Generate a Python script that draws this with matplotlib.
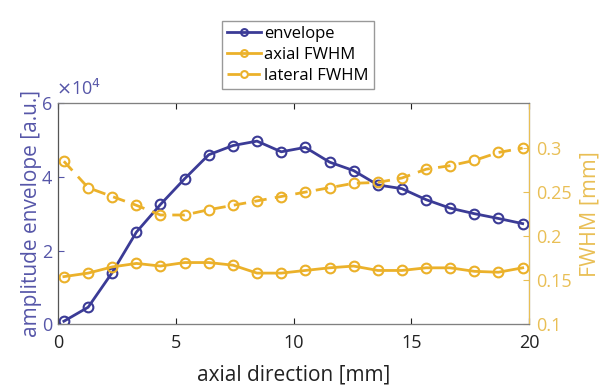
import matplotlib
matplotlib.use("Agg")
import matplotlib.pyplot as plt
import numpy as np

plt.rcParams['font.family'] = ['Open Sans', 'DejaVu Sans']

# axial positions [mm]
depth = [0.25, 1.28, 2.3, 3.33, 4.35, 5.38, 6.4, 7.43, 8.45, 9.48,
         10.5, 11.53, 12.55, 13.58, 14.6, 15.63, 16.65, 17.68, 18.7, 19.73]

# amplitude envelope [a.u.]
envelope = [800, 4600, 14000, 25000, 32500, 39500, 46000, 48500, 49700, 46800,
            48000, 44000, 41700, 37800, 36800, 33800, 31500, 30000, 28700, 27300]

# FWHM [mm]
axial_fwhm = [0.154, 0.158, 0.165, 0.169, 0.166, 0.170, 0.170, 0.167, 0.158, 0.158,
              0.161, 0.164, 0.166, 0.161, 0.161, 0.164, 0.164, 0.160, 0.159, 0.164]
lateral_fwhm = [0.285, 0.255, 0.245, 0.235, 0.224, 0.224, 0.230, 0.235, 0.240, 0.245,
                0.250, 0.255, 0.260, 0.261, 0.266, 0.276, 0.280, 0.286, 0.295, 0.300]

c_env = '#3b3b96'
c_env_txt = '#5656a8'
c_fw = '#ebb12a'
c_fw_txt = '#e9bf55'
grey = '#808080'

fig = plt.figure(figsize=(6.08, 3.85), dpi=100)
ax = fig.add_axes([0.0954, 0.158, 0.7747, 0.574])
ax2 = ax.twinx()

l1, = ax.plot(depth, envelope, '-o', color=c_env, lw=2, ms=7, mfc='none', mew=1.5,
              label='envelope')
l2, = ax2.plot(depth, axial_fwhm, '-o', color=c_fw, lw=2, ms=7, mfc='none', mew=1.5,
               label='axial FWHM')
l3, = ax2.plot(depth, lateral_fwhm, '--o', color=c_fw, lw=2, ms=7, mfc='none', mew=1.5,
               label='lateral FWHM', dashes=(4.5, 3))

ax.set_xlim(0, 20)
ax.set_ylim(0, 60000)
ax.set_xticks(np.arange(0, 21, 5))
ax.set_yticks([0, 20000, 40000, 60000])
ax.set_yticklabels(['0', '2', '4', '6'])
ax2.set_ylim(0.1, 0.351)
ax2.set_yticks([0.1, 0.15, 0.2, 0.25, 0.3])
ax2.set_yticklabels(['0.1', '0.15', '0.2', '0.25', '0.3'])

ax.tick_params(axis='x', direction='in', labelsize=13, colors='#222222', length=4,
               top=True, pad=7)
ax.tick_params(axis='y', direction='in', labelsize=13, colors=c_env_txt, length=4, pad=4)
ax2.tick_params(axis='y', direction='in', labelsize=13, colors=c_fw_txt, length=4, pad=5)

for s in ['top', 'bottom', 'left']:
    ax2.spines[s].set_color(grey)
ax2.spines['right'].set_color(c_fw_txt)
ax2.spines['left'].set_color('#555555')

ax.set_xlabel('axial direction [mm]', fontsize=15, color='#222222', labelpad=9)
ax.set_ylabel('amplitude envelope [a.u.]', fontsize=15, color=c_env_txt, labelpad=0)
ax2.set_ylabel('FWHM [mm]', fontsize=15.5, color=c_fw_txt, labelpad=6)

fig.text(0.092, 0.742, r'$\times$10$^4$', fontsize=13, color=c_env_txt, ha='left', va='bottom')

leg = fig.legend(handles=[l1, l2, l3], loc='upper left', bbox_to_anchor=(0.352, 0.968),
                 fontsize=12, frameon=True, fancybox=False, edgecolor=grey,
                 handlelength=2.0, handletextpad=0.2, borderpad=0.3, labelspacing=0.3,
                 markerscale=0.7)
leg.get_frame().set_linewidth(1)

fig.savefig('out.png', dpi=100)
